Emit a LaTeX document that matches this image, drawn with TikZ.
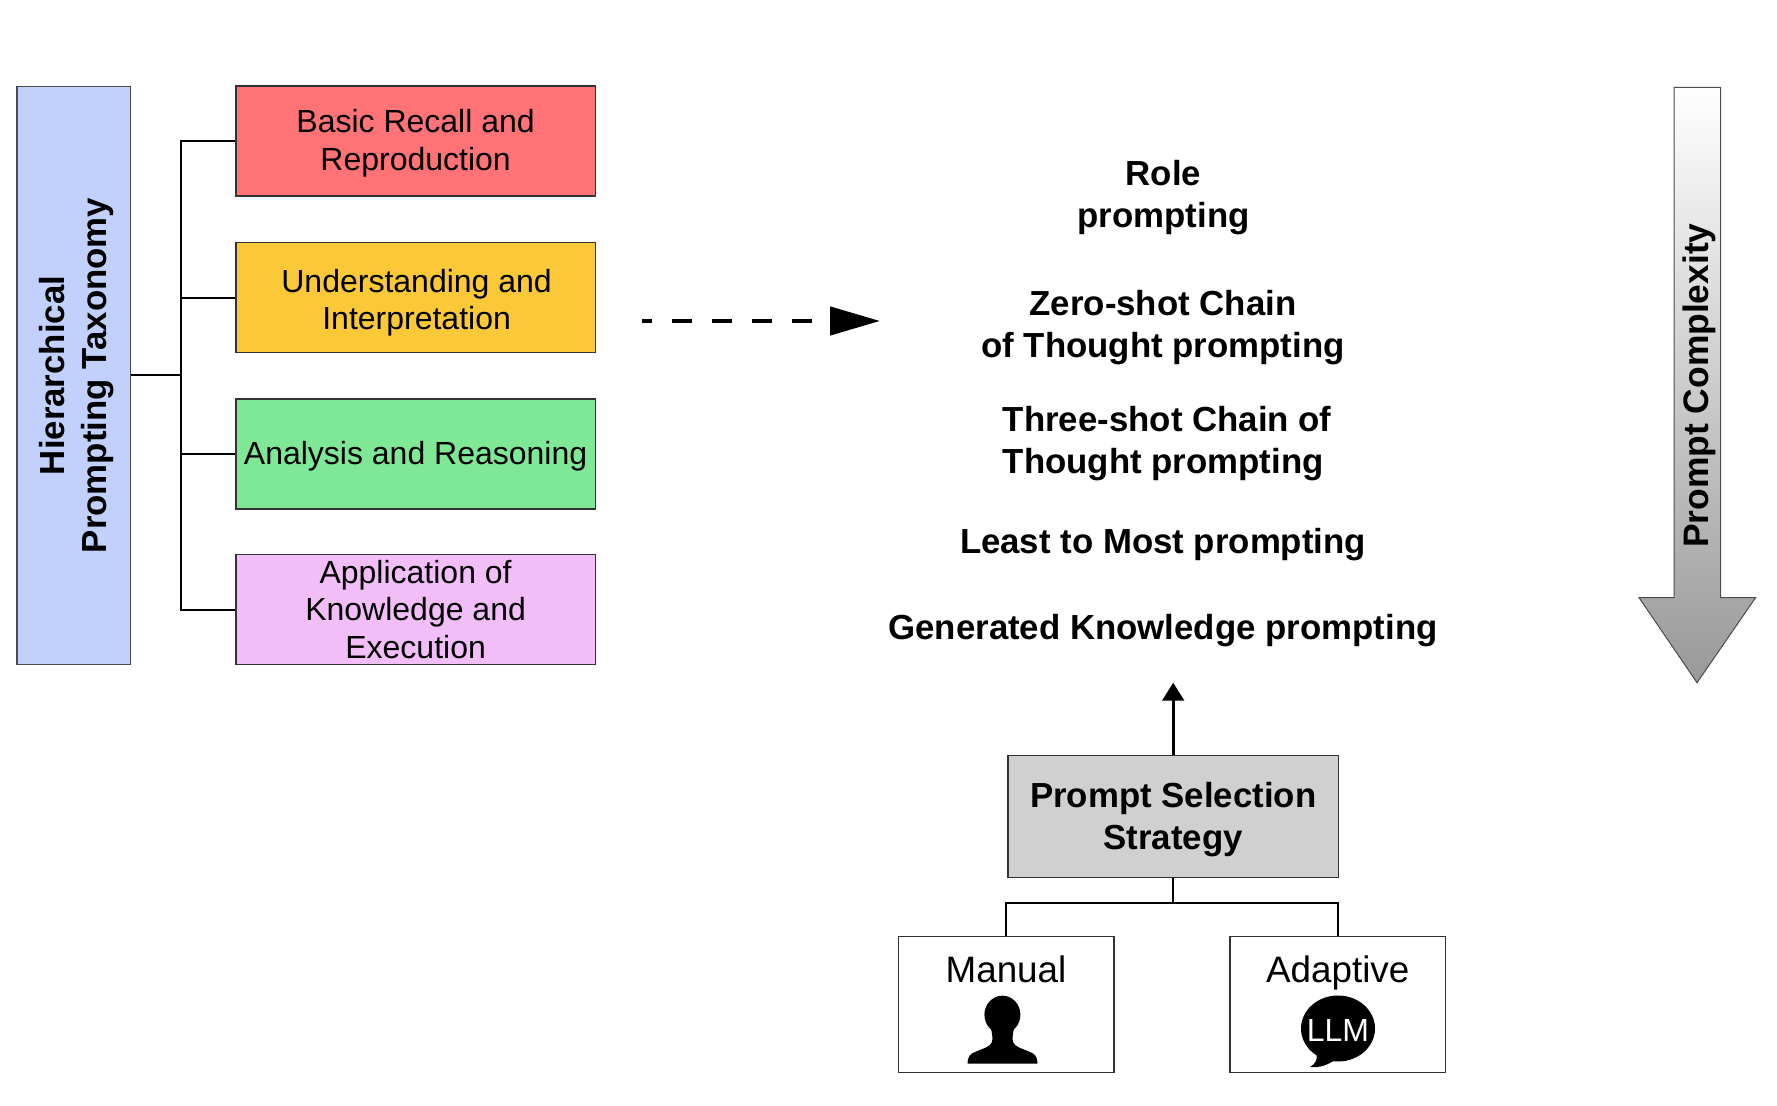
\documentclass[tikz,border=0pt]{standalone}
\usepackage{fontspec}
\setmainfont{Liberation Sans}
\usetikzlibrary{arrows.meta,positioning}
\definecolor{recallred}{HTML}{FF7276}
\definecolor{understandyellow}{HTML}{FBC938}
\definecolor{analysisgreen}{HTML}{7EE896}
\definecolor{applypink}{HTML}{F2BEF8}
\definecolor{taxonomyblue}{HTML}{C1D1FC}
\definecolor{selectgray}{HTML}{D0D0D0}
\definecolor{arrowgray}{HTML}{999999}

\begin{document}
\begin{tikzpicture} [x=0.5pt, y=-0.5pt]
    \tikzstyle{every node} = [align=center, inner sep=0pt]
    \tikzstyle{plain text} = [font=\fontsize{16}{18.8}\selectfont]
    \tikzstyle{large text} = [font=\fontsize{18.4}{21}\selectfont]
    \tikzstyle{bold text} = [font=\fontsize{17.4}{21}\selectfont\bfseries]
    \tikzstyle{level} = [draw=black!80, line width=0.7pt, minimum width=179.7pt, minimum height=55pt]
    \tikzstyle{source} = [draw=black!80, line width=0.7pt, minimum width=107.8pt, minimum height=68pt]
    \tikzstyle{branch} = [line width=1pt]
    \useasboundingbox (0,0) rectangle (1777,1106);

    \node [draw=black!70, line width=0.7pt, fill=taxonomyblue, minimum width=56.7pt, minimum height=289pt] (taxonomy) at (73.7,375.5) {};
    \node [bold text, rotate=90] (taxonomytext) at (76.3,375.5) {Hierarchical\\Prompting Taxonomy};
    \node [level, fill=recallred] (recall) at (415.6,141) {};
    \node [level, fill=understandyellow] (understanding) at (415.6,297.7) {};
    \node [level, fill=analysisgreen] (analysis) at (415.6,454) {};
    \node [level, fill=applypink] (application) at (415.6,609.5) {};
    \node [plain text, yshift=-1.1pt] (recalltext) at (recall) {Basic Recall and\\Reproduction};
    \node [plain text, yshift=-2.5pt, xshift=0.5pt] (understandingtext) at (understanding) {Understanding and\\Interpretation};
    \node [plain text, yshift=-1.1pt] (analysistext) at (analysis) {Analysis and Reasoning};
    \node [plain text] (applicationtext) at (application) {Application of\\Knowledge and\\Execution};
    \foreach \target in {recall, understanding, analysis, application}
        \draw [branch] (taxonomy.east) -- ++(49.5,0) |- (\target.west);

    \coordinate (dashstart) at (642,321);
    \coordinate (dashend) at (880,321);
    \draw [line width=2.3pt, dash pattern=on 10pt off 10pt, dash phase=5pt, -{Triangle[length=25pt, width=14pt]}] (dashstart) -- (dashend);

    \node [bold text] (role) at (1163.5,198) {Role\\prompting};
    \node [bold text] (zeroshot) at (1163,327.2) {Zero-shot Chain\\of Thought prompting};
    \node [bold text, align=left, anchor=west] (threeshot) at (1002.5,444) {Three-shot Chain of\\Thought prompting};
    \node [bold text] (leastmost) at (1163,544.5) {Least to Most prompting};
    \node [bold text] (generated) at (1163,631) {Generated Knowledge prompting};

    \node [draw=black!80, line width=0.7pt, fill=selectgray, minimum width=165.1pt, minimum height=61.2pt] (selection) at (1173.2,816.5) {};
    \node [bold text, yshift=-1.7pt] (selectiontext) at (selection) {Prompt Selection\\Strategy};
    \coordinate (selecttip) at (1173.2,682.7);
    \draw [line width=1.6pt, -{Triangle[length=9pt, width=10.8pt]}] (selection.north) -- (selecttip);

    \node [source] (manual) at (1006,1004.7) {};
    \node [source] (adaptive) at (1337.7,1004.7) {};
    \draw [branch] (selection.south) -- ++(0,25) -| (manual.north);
    \draw [branch] (selection.south) -- ++(0,25) -| (adaptive.north);
    \node [large text, below=9.5pt of manual.north] (manualtext) {Manual};
    \node [large text, below=9.5pt of adaptive.north] (adaptivetext) {Adaptive};

    \fill (1002.4,1014.7) ellipse [x radius=18, y radius=19];
    \fill (967.5,1063.7) .. controls (968,1056) and (970,1054) .. (975,1052) .. controls (984,1048) and (990,1047) .. (992,1042) .. controls (993,1038) and (992,1034) .. (991,1028) -- (1014,1028) .. controls (1013,1034) and (1012,1038) .. (1013,1042) .. controls (1015,1047) and (1021,1048) .. (1030,1052) .. controls (1035,1054) and (1037,1056) .. (1037.5,1063.7) -- cycle;

    \fill (1338,1028.5) ellipse [x radius=37, y radius=33];
    \fill (1316,1052) .. controls (1318,1060) and (1316,1063) .. (1310,1067) .. controls (1320,1068) and (1328,1065) .. (1336,1059) -- cycle;
    \node [plain text, text=white] (llm) at (1338,1030) {LLM};

    \shade [draw=black!70, line width=0.5pt, top color=white, bottom color=arrowgray] (1674,87.3) -- (1720.5,87.3) -- (1720.5,597.6) -- (1755.6,597.6) -- (1697,682.7) -- (1639,597.6) -- (1674,597.6) -- cycle;
    \node [font=\fontsize{17.7}{21}\selectfont\bfseries, rotate=90] (complexity) at (1699,385.6) {Prompt Complexity};
\end{tikzpicture}
\end{document}
